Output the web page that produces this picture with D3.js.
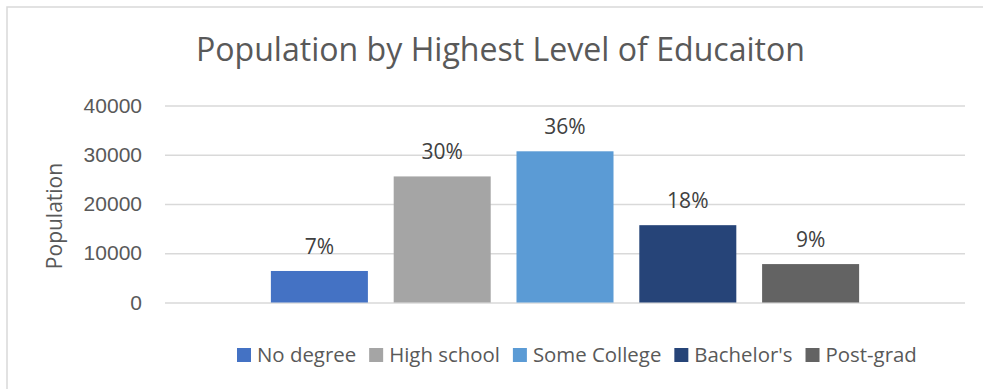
<!DOCTYPE html>
<html>
<head>
<meta charset="utf-8">
<script src="https://cdn.jsdelivr.net/npm/d3@7"></script>
<style>
  html, body { margin: 0; padding: 0; background: #ffffff; }
  svg { display: block; font-family: "Open Sans", "Lato", sans-serif; }
</style>
</head>
<body>
<svg id="chart" width="983" height="389"></svg>
<script>
// Education levels (one series each) and their population counts
const series = ["No degree", "High school", "Some College", "Bachelor's", "Post-grad"];
const values = [6400, 25600, 30700, 15700, 7800];
const pctLabels = ["7%", "30%", "36%", "18%", "9%"];
const colors = ["#4472C4", "#A5A5A5", "#5B9BD5", "#264478", "#636363"];
const yTicks = [0, 10000, 20000, 30000, 40000];
const category = ["Population"];

const svg = d3.select("#chart");
const textColor = "#595959";
const gridColor = "#d9d9d9";

// Chart frame
svg.append("rect")
  .attr("x", 7).attr("y", 7)
  .attr("width", 1000).attr("height", 420)
  .attr("fill", "#fff")
  .attr("stroke", gridColor).attr("stroke-width", 1.5);

// Plot area
const plot = { left: 165, right: 965, top: 105.5, bottom: 302.5 };

const y = d3.scaleLinear().domain([0, 40000]).range([plot.bottom, plot.top]);

// Single category holding a cluster of five bars
const x0 = d3.scaleBand().domain(category)
  .range([plot.left, plot.right]).paddingOuter(0.18).paddingInner(0);
const x1 = d3.scaleBand().domain(series)
  .range([0, x0.bandwidth()]).paddingInner(0.21).paddingOuter(0);

// Gridlines + tick labels
const yAxis = d3.axisLeft(y).tickValues(yTicks).tickSize(-(plot.right - plot.left)).tickPadding(23)
  .tickFormat(d3.format("d"));
const gAxis = svg.append("g").attr("transform", `translate(${plot.left},0)`).call(yAxis);
gAxis.select(".domain").remove();
gAxis.selectAll(".tick line").attr("stroke", gridColor).attr("stroke-width", 1.5);
gAxis.selectAll(".tick text")
  .attr("fill", textColor)
  .style("font-size", "21px");

// Bars
const gBars = svg.append("g").attr("transform", `translate(${x0(category[0])},0)`);
gBars.selectAll("rect")
  .data(series)
  .join("rect")
  .attr("x", d => x1(d))
  .attr("width", x1.bandwidth())
  .attr("y", (d, i) => y(values[i]))
  .attr("height", (d, i) => y(0) - y(values[i]))
  .attr("fill", (d, i) => colors[i]);

// Percentage labels above bars
gBars.selectAll("text.pct")
  .data(series)
  .join("text")
  .attr("class", "pct")
  .attr("x", d => x1(d) + x1.bandwidth() / 2)
  .attr("y", (d, i) => y(values[i]) - 17)
  .attr("text-anchor", "middle")
  .attr("fill", "#404040")
  .style("font-size", "21px")
  .text((d, i) => pctLabels[i]);

// Title, sized to span 609px
const title = svg.append("text")
  .attr("x", 500.5).attr("y", 61)
  .attr("text-anchor", "middle")
  .attr("fill", textColor)
  .style("font-size", "30px")
  .text("Population by Highest Level of Educaiton");
const tw = title.node().getComputedTextLength();
title.style("font-size", (30 * 609 / tw).toFixed(2) + "px");

// Y axis title
svg.append("text")
  .attr("transform", "translate(62,216) rotate(-90)")
  .attr("text-anchor", "middle")
  .attr("fill", textColor)
  .style("font-size", "21px")
  .text("Population");

// Legend: swatch + label per series, laid out left to right
const legend = svg.append("g");
function drawLegend(fs) {
  legend.selectAll("*").remove();
  let lx = 237;
  series.forEach((s, i) => {
    legend.append("rect")
      .attr("x", lx).attr("y", 348)
      .attr("width", 14).attr("height", 14)
      .attr("fill", colors[i]);
    const t = legend.append("text")
      .attr("x", lx + 20).attr("y", 362)
      .attr("fill", textColor)
      .style("font-size", fs + "px")
      .text(s);
    lx += 20 + t.node().getComputedTextLength() + 13;
  });
  return lx - 13;
}
const end = drawLegend(21);
// shrink labels so the legend ends near x = 917
const textTotal = end - 237 - 5 * 20 - 4 * 13;
const targetText = 917 - 237 - 5 * 20 - 4 * 13;
drawLegend((21 * targetText / textTotal).toFixed(2));
</script>
</body>
</html>
